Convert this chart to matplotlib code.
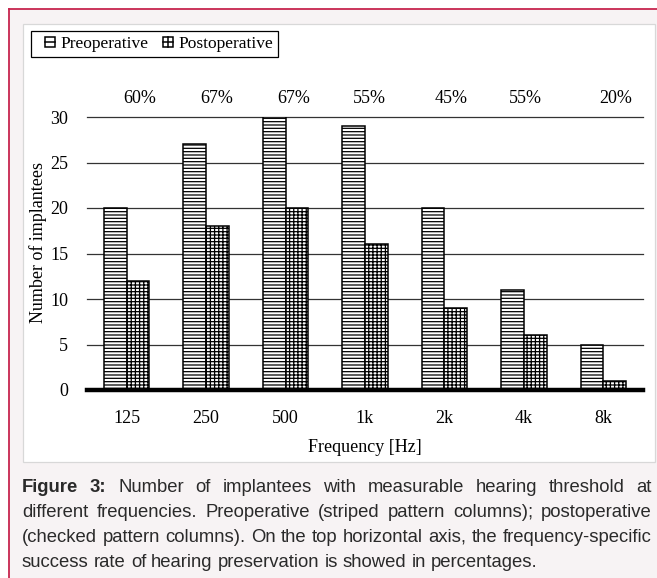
import matplotlib
matplotlib.use("Agg")
import matplotlib.pyplot as plt
from matplotlib.patches import Rectangle, Patch
from matplotlib.lines import Line2D
from matplotlib.legend_handler import HandlerBase
import numpy as np

# ---------------- data ----------------
frequencies = ["125", "250", "500", "1k", "2k", "4k", "8k"]
preoperative = [20, 27, 30, 29, 20, 11, 5]
postoperative = [12, 18, 20, 16, 9, 6, 1]
preservation_pct = [60, 67, 67, 55, 45, 55, 20]

caption_lines = [
    [("Figure", True), ("3:", True), ("Number", False), ("of", False), ("implantees", False),
     ("with", False), ("measurable", False), ("hearing", False), ("threshold", False), ("at", False)],
    [(w, False) for w in "different frequencies. Preoperative (striped pattern columns); postoperative".split()],
    [(w, False) for w in "(checked pattern columns). On the top horizontal axis, the frequency-specific".split()],
    [(w, False) for w in "success rate of hearing preservation is showed in percentages.".split()],
]

# ---------------- figure ----------------
W, H = 657, 578
DPI = 100
plt.rcParams["hatch.linewidth"] = 0.9
fig = plt.figure(figsize=(W / DPI, H / DPI), dpi=DPI)
fig.patch.set_facecolor("white")

def fx(x):
    return x / W

def fy(y):
    return 1 - y / H

# page background + crimson border
fig.patches.append(Rectangle((fx(8.7), 0), 1 - fx(8.7), fy(8.7), transform=fig.transFigure,
                             facecolor="#f7f3f4", edgecolor="none", zorder=-10))
fig.lines.append(Line2D([fx(8.7), fx(8.7)], [0, fy(8.7)], transform=fig.transFigure,
                        color="#c7254e", lw=1.3, zorder=-9))
fig.lines.append(Line2D([fx(8.7), 1], [fy(8.7), fy(8.7)], transform=fig.transFigure,
                        color="#c7254e", lw=1.3, zorder=-9))
# inner white panel
fig.patches.append(Rectangle((fx(23), fy(462)), fx(655) - fx(23), fy(24) - fy(462),
                             transform=fig.transFigure, facecolor="white",
                             edgecolor="#d8d8d8", lw=0.9, zorder=-8))

serif = "Liberation Serif"
fs = 13

ax = fig.add_axes([fx(87), fy(390), fx(643) - fx(87), fy(117) - fy(390)])
ax.set_facecolor("none")
x = np.arange(len(frequencies))
bw = 0.286
bars_pre = ax.bar(x - bw / 2, preoperative, bw, facecolor="white", edgecolor="black",
                  hatch="-----", lw=1.1, zorder=3)
bars_post = ax.bar(x + bw / 2, postoperative, bw, facecolor="white", edgecolor="black",
                   hatch="-----||||", lw=1.1, zorder=3)

ax.set_xlim(-0.5, len(frequencies) - 0.5)
ax.set_ylim(0, 30)
ax.set_yticks(range(0, 31, 5))
ax.set_xticks(x)
ax.set_xticklabels(frequencies)
ax.set_axisbelow(True)
ax.yaxis.grid(True, color="#333333", lw=0.9)
for g in ax.get_ygridlines():
    g.set_clip_on(False)
for s in ["top", "right", "left"]:
    ax.spines[s].set_visible(False)
ax.spines["bottom"].set_linewidth(3.2)
ax.spines["bottom"].set_zorder(4)
ax.tick_params(axis="both", length=0, labelsize=fs, labelfontfamily=serif)
ax.tick_params(axis="x", pad=14.5)
ax.tick_params(axis="y", pad=13.5)

ax.set_ylabel("Number of implantees", fontsize=fs, family=serif, ha="center", va="center")
ax.yaxis.set_label_coords((38 - 87) / 556, (390 - 242.5) / 273)
ax.set_xlabel("Frequency [Hz]", fontsize=fs, family=serif, ha="center", va="center")
ax.xaxis.set_label_coords(0.5, (390 - 447) / 273)

# percentages on the top
pct_offsets = [0.16, 0.13, 0.10, 0.05, 0.08, 0.02, 0.16]
for i, p in enumerate(preservation_pct):
    ax.text(x[i] + pct_offsets[i], 32.0, f"{p}%", ha="center", va="center",
            fontsize=fs, family=serif, clip_on=False)

# legend with small icon handles
class HatchIcon(HandlerBase):
    def __init__(self, vertical):
        super().__init__()
        self.vertical = vertical

    def create_artists(self, legend, orig_handle, xdescent, ydescent, width, height,
                       fontsize, trans):
        s = 10.0 * 72 / DPI
        x0 = -xdescent + width - s
        y0 = -ydescent + (height - s) / 2
        arts = [Rectangle((x0, y0), s, s, facecolor="white", edgecolor="black", lw=1.1,
                          transform=trans),
                Line2D([x0, x0 + s], [y0 + s / 2] * 2, color="black", lw=1.1, transform=trans)]
        if self.vertical:
            arts.append(Line2D([x0 + s / 2] * 2, [y0, y0 + s], color="black", lw=1.1,
                               transform=trans))
        return arts

h_pre = Patch(facecolor="white", edgecolor="black")
h_post = Patch(facecolor="white", edgecolor="black")
leg = fig.legend([h_pre, h_post], ["Preoperative", "Postoperative"], loc="upper left",
                 bbox_to_anchor=(fx(31), fy(31)), bbox_transform=fig.transFigure,
                 ncol=2, frameon=True, fancybox=False, edgecolor="black", framealpha=1,
                 borderpad=0.3, borderaxespad=0, handlelength=1.1, handleheight=0.6,
                 handletextpad=0.3, columnspacing=0.3,
                 prop={"family": serif, "size": fs - 0.5},
                 handler_map={h_pre: HatchIcon(False), h_post: HatchIcon(True)})
leg.get_frame().set_linewidth(0.9)

# caption, justified
renderer = fig.canvas.get_renderer()
cap_font = "Liberation Sans"

def text_width(s, size, bold=False):
    t = fig.text(0, 0, s, fontsize=size, family=cap_font,
                 fontweight="bold" if bold else "normal")
    w = t.get_window_extent(renderer).width
    t.remove()
    return w

line2 = " ".join(w for w, _ in caption_lines[1])
cap_fs = 10 * 618 / text_width(line2, 10)
space_w = text_width("a b", cap_fs) - text_width("ab", cap_fs)
left, right = 22, 652
baselines = [492, 517, 542, 567]
for li, words in enumerate(caption_lines):
    widths = [text_width(w, cap_fs, b) for w, b in words]
    if li < len(caption_lines) - 1:
        gap = (right - left - sum(widths)) / (len(words) - 1)
    else:
        gap = space_w
    xp = left
    for (w, b), wd in zip(words, widths):
        fig.text(fx(xp), fy(baselines[li]), w, fontsize=cap_fs, family=cap_font,
                 fontweight="bold" if b else "normal", color="#2a2a2a",
                 ha="left", va="baseline")
        xp += wd + gap

fig.savefig("out.png", dpi=DPI)
